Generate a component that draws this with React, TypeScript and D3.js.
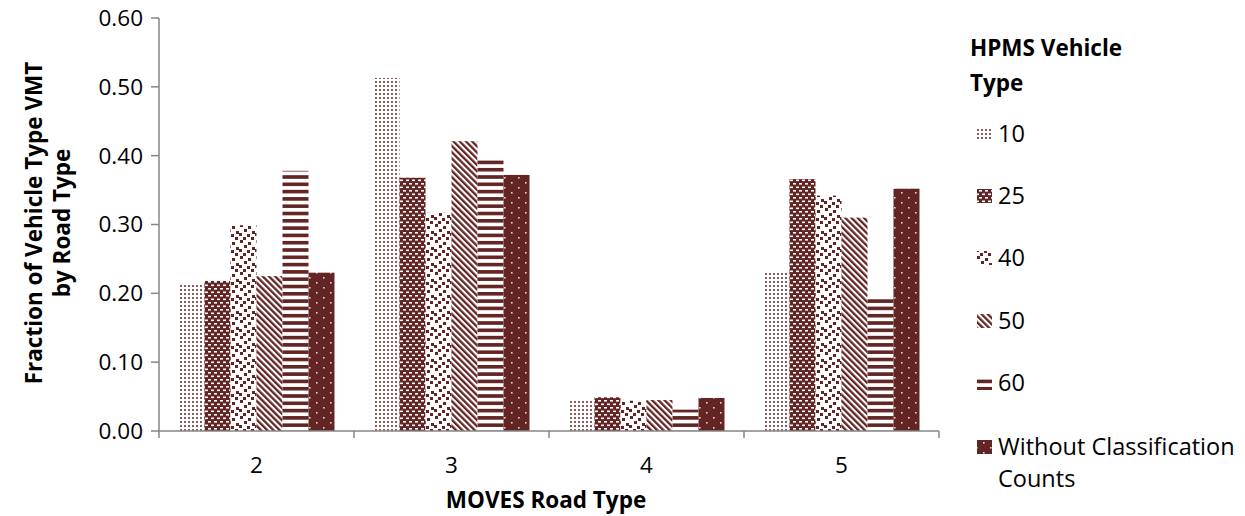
import React from "react";
import * as d3 from "d3";

// Road types on the x axis
const roadTypes = ["2", "3", "4", "5"];

// HPMS vehicle type series (legend order)
const vehicleTypes = ["10", "25", "40", "50", "60", "Without Classification Counts"];

// Fraction of vehicle-type VMT by road type, one array per series
const vt10 = [0.214, 0.513, 0.045, 0.231];
const vt25 = [0.218, 0.368, 0.049, 0.366];
const vt40 = [0.299, 0.317, 0.044, 0.342];
const vt50 = [0.225, 0.421, 0.045, 0.310];
const vt60 = [0.378, 0.397, 0.031, 0.196];
const vtWithout = [0.230, 0.372, 0.048, 0.352];

const yTicks = [0, 0.1, 0.2, 0.3, 0.4, 0.5, 0.6];

const seriesValues = [vt10, vt25, vt40, vt50, vt60, vtWithout];

const W = 1245;
const H = 516;
const DARK = "#632523";
const AXIS = "#868686";
const FONT = "'Open Sans', 'Liberation Sans', sans-serif";
const FS = 22.5;
const FS_LEGEND = 23.5;
const FS_BOLD = 22.5;

const plot = { left: 159, right: 939, top: 18, bottom: 431 };

const patternIds = ["p10", "p25", "p40", "p50", "p60", "pWo"];

function Patterns() {
  return (
    <defs>
      {/* fine dotted grid */}
      <pattern id="p10" patternUnits="userSpaceOnUse" width={4} height={4}>
        <rect width={4} height={4} fill="#fff" />
        <rect x={1} y={1} width={2} height={2} fill={DARK} opacity={0.75} />
      </pattern>
      {/* dark brick with white dashes */}
      <pattern id="p25" patternUnits="userSpaceOnUse" width={6} height={7}>
        <rect width={6} height={7} fill={DARK} />
        <rect x={1} y={1} width={3} height={1.6} fill="#fff" />
        <rect x={4} y={4.5} width={2} height={1.6} fill="#fff" />
        <rect x={0} y={4.5} width={1} height={1.6} fill="#fff" />
      </pattern>
      {/* large confetti */}
      <pattern id="p40" patternUnits="userSpaceOnUse" width={16} height={16}>
        <rect width={16} height={16} fill="#fff" />
        <rect x={1} y={0} width={3} height={3} fill={DARK} />
        <rect x={9} y={2} width={3} height={3} fill={DARK} />
        <rect x={5} y={5} width={3} height={3} fill={DARK} />
        <rect x={13} y={7} width={3} height={3} fill={DARK} />
        <rect x={0} y={9} width={3} height={3} fill={DARK} />
        <rect x={8} y={10} width={3} height={3} fill={DARK} />
        <rect x={4} y={13} width={3} height={3} fill={DARK} />
        <rect x={12} y={13} width={3} height={3} fill={DARK} />
      </pattern>
      {/* wide downward diagonal */}
      <pattern
        id="p50"
        patternUnits="userSpaceOnUse"
        width={4.4}
        height={10}
        patternTransform="rotate(-45)"
      >
        <rect width={4.4} height={10} fill="#fff" />
        <rect x={0} y={0} width={2.3} height={10} fill={DARK} />
      </pattern>
      {/* horizontal stripes */}
      <pattern id="p60" patternUnits="userSpaceOnUse" width={10} height={7.3}>
        <rect width={10} height={7.3} fill="#fff" />
        <rect x={0} y={0} width={10} height={3.6} fill={DARK} />
      </pattern>
      {/* dark with sparse white dots */}
      <pattern id="pWo" patternUnits="userSpaceOnUse" width={14} height={10}>
        <rect width={14} height={10} fill={DARK} />
        <rect x={3} y={2} width={1.6} height={1.6} fill="#fff" opacity={0.8} />
        <rect x={10} y={7} width={1.6} height={1.6} fill="#fff" opacity={0.8} />
      </pattern>
    </defs>
  );
}

export default function App() {
  const x0 = d3
    .scaleBand<string>()
    .domain(roadTypes)
    .range([plot.left, plot.right])
    .paddingInner(0)
    .paddingOuter(0);

  const x1 = d3
    .scaleBand<string>()
    .domain(vehicleTypes)
    .range([19.5, x0.bandwidth() - 19.5])
    .padding(0);

  const y = d3.scaleLinear().domain([0, 0.6]).range([plot.bottom, plot.top]);

  const fmt = d3.format(".2f");

  const legendX = 977;
  const legendRows = [134, 196, 258, 321, 383, 447];

  return (
    <svg
      width={W}
      height={H}
      style={{ position: "absolute", left: 0, top: 0, background: "#fff" }}
      fontFamily={FONT}
    >
      <Patterns />

      {/* bars */}
      {roadTypes.map((rt, gi) => (
        <g key={rt} transform={`translate(${x0(rt)},0)`}>
          {vehicleTypes.map((vt, si) => {
            const v = seriesValues[si][gi];
            return (
              <rect
                key={vt}
                x={x1(vt)}
                y={y(v)}
                width={x1.bandwidth()}
                height={y(0) - y(v)}
                fill={`url(#${patternIds[si]})`}
              />
            );
          })}
        </g>
      ))}

      {/* y axis */}
      <line x1={plot.left} x2={plot.left} y1={plot.top} y2={plot.bottom} stroke={AXIS} strokeWidth={1.5} />
      {yTicks.map((t) => (
        <g key={t}>
          <line x1={plot.left - 8} x2={plot.left} y1={y(t)} y2={y(t)} stroke={AXIS} strokeWidth={1.5} />
          <text x={143} y={y(t)} dy="0.35em" textAnchor="end" fontSize={FS} fill="#000">
            {fmt(t)}
          </text>
        </g>
      ))}

      {/* x axis */}
      <line x1={plot.left} x2={plot.right} y1={plot.bottom} y2={plot.bottom} stroke={AXIS} strokeWidth={1.5} />
      {roadTypes.map((rt) => (
        <line
          key={"tk" + rt}
          x1={x0(rt)!}
          x2={x0(rt)!}
          y1={plot.bottom}
          y2={plot.bottom + 7}
          stroke={AXIS}
          strokeWidth={1.5}
        />
      ))}
      <line x1={plot.right} x2={plot.right} y1={plot.bottom} y2={plot.bottom + 7} stroke={AXIS} strokeWidth={1.5} />
      {roadTypes.map((rt) => (
        <text
          key={"lb" + rt}
          x={x0(rt)! + x0.bandwidth() / 2}
          y={465}
          dy="0.35em"
          textAnchor="middle"
          fontSize={FS}
          fill="#000"
        >
          {rt}
        </text>
      ))}

      {/* axis titles */}
      <text x={546} y={500} dy="0.35em" textAnchor="middle" fontSize={FS_BOLD} fontWeight="bold" fill="#000">
        MOVES Road Type
      </text>
      <g transform="translate(34,223) rotate(-90)">
        <text x={0} y={0} dy="0.35em" textAnchor="middle" fontSize={FS_BOLD} fontWeight="bold" fill="#000">
          Fraction of Vehicle Type VMT
        </text>
        <text x={0} y={28} dy="0.35em" textAnchor="middle" fontSize={FS_BOLD} fontWeight="bold" fill="#000">
          by Road Type
        </text>
      </g>

      {/* legend */}
      <text x={970} y={48} dy="0.35em" fontSize={FS_BOLD} fontWeight="bold" fill="#000">
        HPMS Vehicle
      </text>
      <text x={970} y={83} dy="0.35em" fontSize={FS_BOLD} fontWeight="bold" fill="#000">
        Type
      </text>
      {vehicleTypes.map((vt, si) => {
        const cy = legendRows[si];
        const isLong = vt.startsWith("Without");
        return (
          <g key={"lg" + vt}>
            <rect
              x={legendX}
              y={cy - 7}
              width={15}
              height={14}
              fill={`url(#${patternIds[si]})`}
            />
            {isLong ? (
              <>
                <text x={998} y={cy} dy="0.35em" fontSize={FS_LEGEND} fill="#000">
                  Without Classification
                </text>
                <text x={998} y={cy + 32} dy="0.35em" fontSize={FS_LEGEND} fill="#000">
                  Counts
                </text>
              </>
            ) : (
              <text x={998} y={cy} dy="0.35em" fontSize={FS_LEGEND} fill="#000">
                {vt}
              </text>
            )}
          </g>
        );
      })}
    </svg>
  );
}
